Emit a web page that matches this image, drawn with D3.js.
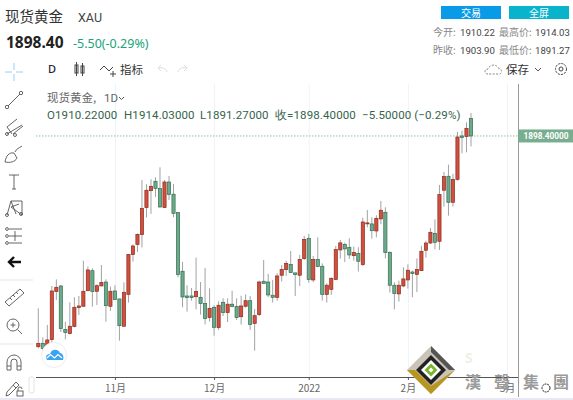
<!DOCTYPE html>
<html><head><meta charset="utf-8">
<script src="https://cdnjs.cloudflare.com/ajax/libs/d3/7.8.5/d3.min.js"></script>
<style>html,body{margin:0;padding:0;background:#fff;overflow:hidden}svg{display:block}text{font-family:"Noto Sans CJK SC","Noto Sans",sans-serif}</style>
</head><body><svg id="c" width="573" height="400"></svg>
<script>
const opens=[1755.1,1757.4,1755.8,1759.9,1792.6,1796.4,1766.9,1764.0,1768.8,1781.7,1782.6,1793.2,1806.8,1792.8,1796.4,1799.1,1782.6,1793,1787.6,1769,1790.7,1817.7,1824.7,1831.3,1849.7,1861.2,1867.6,1862.6,1849.7,1867.1,1858.8,1846.3,1806.4,1789.6,1789.6,1789.1,1788.7,1784.4,1774.9,1781.9,1768.1,1785.3,1778.3,1784,1782.4,1775.5,1782.6,1786.4,1771,1776.9,1799.6,1799.1,1790.1,1788.7,1803.7,1807.5,1811.1,1805.3,1803.7,1815,1828.8,1800.5,1814.5,1809.8,1790.7,1794.1,1800.9,1820.9,1824.7,1822.7,1817,1818.6,1810.9,1838.8,1838.6,1833.8,1842,1846.5,1819.3,1796.9,1791,1796.4,1800.5,1805.9,1804.3,1806.8,1820.7,1825.6,1832.2,1826.8,1861.5,1871,1853.3,1868.9,1898.4,1898,1910.2];
const highs=[1781.2,1761.5,1769.9,1796.4,1800.9,1797.1,1772.1,1785.3,1788.7,1789.6,1813.6,1809.6,1808.4,1797.5,1810.7,1800.9,1796,1796.9,1787.6,1798.9,1817.9,1824.7,1832.2,1868.5,1865.6,1869,1870.3,1877.1,1868.5,1871.2,1865.8,1846.3,1812.7,1796.9,1795,1815.7,1799.1,1808.6,1794.8,1783.3,1786,1788,1788,1793.2,1788,1789.8,1790.7,1789.6,1780.8,1800,1814.1,1804.6,1800.5,1805,1810.7,1813.6,1820.2,1805.3,1817.5,1830.4,1831.8,1816.8,1829.5,1811.8,1798.2,1802.3,1823.6,1827.7,1825.9,1828.8,1823.2,1822.7,1842.9,1848.1,1843.1,1844.5,1854.2,1849.9,1819.8,1798.9,1800,1809.1,1811.1,1806.8,1815.2,1823.6,1827.2,1835.8,1841.7,1865.1,1873.9,1878.9,1872.6,1901.1,1902,1907.7,1914];
const lows=[1754,1752,1755.1,1757.9,1786.9,1765.1,1760.1,1763.5,1768.3,1776.7,1782.4,1792.8,1782.4,1783.5,1796.4,1772.1,1779.4,1786.9,1759.2,1769,1785.1,1813,1819.5,1822.5,1842.9,1845.4,1856.9,1849.7,1849.7,1854.9,1843.1,1802.3,1781.9,1779,1786.4,1780.5,1776.9,1770.3,1772.2,1762.6,1766.5,1776,1771.9,1781.9,1773.3,1770.1,1781.7,1766.5,1752.4,1776,1797.8,1788.7,1785.1,1786.4,1799.4,1803.2,1805.5,1789.6,1796.4,1814.1,1798.7,1798.9,1809.1,1786.4,1785.1,1790.3,1800.5,1815,1812.7,1814.8,1813.6,1806.2,1810,1836.3,1828.6,1829.5,1838.4,1815.2,1791.9,1780.5,1785.8,1795.5,1794.6,1788.7,1792.3,1806.8,1815.7,1825,1821.3,1820.9,1850.4,1844.2,1850.4,1868,1886.6,1887.3,1891.3];
const closes=[1757.4,1753.8,1759.7,1793,1795.5,1767.4,1764.7,1769,1781.9,1782.8,1792.8,1807.3,1792.6,1796.6,1798.7,1783,1792.8,1787.1,1769.4,1792.1,1817.9,1823.6,1831.5,1849.2,1861.5,1864.2,1862.8,1850.1,1867.1,1858.5,1845.8,1804.1,1788.9,1788.5,1788.5,1792.6,1784.4,1774.2,1781.2,1768.3,1783.3,1778.3,1784,1782.4,1774.9,1782.8,1786.4,1770.3,1776.2,1799.1,1798,1790.3,1788.7,1803.2,1807.7,1811.8,1805.5,1804.1,1814.5,1828.1,1800.9,1814.5,1809.6,1790.7,1796.9,1801.6,1821.1,1825.7,1821.6,1817.5,1819.1,1813.2,1839.9,1839.3,1834,1842.4,1847.9,1819.1,1796.9,1791.2,1796.9,1801.2,1807.1,1804.8,1807.7,1820,1825.6,1832.9,1826.1,1858.5,1870.8,1853.3,1868.9,1897.7,1897.3,1903.6,1898.4];
const tickIndex=[17,39,60,82,104];
const tickLabels=["11月","12月","2022","2月","3月"];
const lastPrice=1898.4;
const sidebarIcons=["cross","line","fork","brush","T","nodes","fib","arrow","ruler","zoom","magnet","pencil"];

const svg=d3.select("#c");
const plot={l:36,r:518,t:84,b:377};
const x=d3.scaleLinear().domain([0,96]).range([38.3,471]);
const y=d3.scaleLinear().domain([1734.5,1928.3]).range([377,92]);
const T=(s,px,py,o={})=>svg.append("text").attr("x",px).attr("y",py).text(s)
  .attr("font-size",o.size||12).attr("fill",o.fill||"#333").attr("text-anchor",o.anchor||"start")
  .attr("font-weight",o.weight||400).style("font-family",o.font||null).style("letter-spacing",o.ls||null);

/* gridlines */
svg.append("g").selectAll("line").data(tickIndex).join("line")
  .attr("x1",d=>x(d)+.5).attr("x2",d=>x(d)+.5).attr("y1",plot.t).attr("y2",plot.b).attr("stroke","#eef4f8");

/* last price dotted */
svg.append("line").attr("x1",plot.l).attr("x2",plot.r).attr("y1",y(lastPrice)).attr("y2",y(lastPrice))
  .attr("stroke","#8fc2a9").attr("stroke-dasharray","1.5 1.5");

/* candles */
const idx=d3.range(opens.length);
const bw=3.2;
const g=svg.append("g");
g.selectAll("line").data(idx).join("line")
  .attr("x1",d=>x(d)).attr("x2",d=>x(d)).attr("y1",d=>y(highs[d])).attr("y2",d=>y(lows[d]))
  .attr("stroke","#a2a2a2").attr("stroke-width",1);
g.selectAll("rect").data(idx).join("rect")
  .attr("x",d=>x(d)-bw/2).attr("width",bw)
  .attr("y",d=>y(Math.max(opens[d],closes[d])))
  .attr("height",d=>Math.max(1,Math.abs(y(opens[d])-y(closes[d]))))
  .attr("fill",d=>closes[d]>=opens[d]?"#d0503e":"#6fa98c")
  .attr("stroke",d=>closes[d]>=opens[d]?"#8f2a20":"#2f6f52").attr("stroke-width",.7);

/* axes */
const ax=d3.axisBottom(x).tickValues(tickIndex).tickFormat((d,i)=>tickLabels[i]).tickSize(3).tickPadding(5);
const gx=svg.append("g").attr("transform",`translate(0,${plot.b})`).call(ax);
gx.select(".domain").attr("stroke","#555").attr("d",`M${plot.l},0.5H${plot.r}`);
gx.selectAll("line").attr("stroke","#555");
gx.selectAll("text").attr("font-size",10).attr("fill","#666").style("font-family",'"Noto Sans CJK SC"');
const ay=d3.axisRight(y).tickValues([]).tickSize(0);
const gy=svg.append("g").attr("transform",`translate(${plot.r},0)`).call(ay);
gy.select(".domain").attr("stroke","#9a9a9a").attr("d",`M0.5,${plot.t}V397`);

/* price label */
svg.append("rect").attr("x",518).attr("y",y(lastPrice)-6.5).attr("width",55).attr("height",13).attr("fill","#78ad8f");
T("1898.40000",546,y(lastPrice)+3,{size:8.3,fill:"#fff",anchor:"middle",weight:700,font:"Roboto"});

/* header */
T("现货黄金",5,22,{size:14.5,fill:"#333"});
T("XAU",78,22,{size:12.5,fill:"#444",font:"Roboto"});
T("1898.40",6,48,{size:15.5,fill:"#222",weight:700,font:"Noto Sans"});
T("-5.50(-0.29%)",73,48,{size:12.5,fill:"#1ba37c",font:"Noto Sans"});

svg.append("rect").attr("x",441).attr("y",6).attr("width",60).attr("height",13).attr("fill","#0a9be8");
svg.append("rect").attr("x",509).attr("y",6).attr("width",60).attr("height",13).attr("fill","#09b3cc");
T("交易",471,16.5,{size:10,fill:"#fff",anchor:"middle"});
T("全屏",539,16.5,{size:10,fill:"#fff",anchor:"middle"});

[["今开:","1910.22","最高价:","1914.03",36],["昨收:","1903.90","最低价:","1891.27",54]].forEach(r=>{
  T(r[0],433,r[4],{size:10,fill:"#888"});
  T(r[1],460,r[4],{size:9.6,fill:"#444",font:"Roboto"});
  T(r[2],499,r[4],{size:10,fill:"#888"});
  T(r[3],535,r[4],{size:9.6,fill:"#444",font:"Roboto"});
});

/* toolbar */
T("D",48,73,{size:11,fill:"#223",weight:500,font:"Noto Sans"});
const tb=svg.append("g").attr("fill","none").attr("stroke","#444").attr("stroke-width",1);
tb.append("rect").attr("x",75).attr("y",65).attr("width",3).attr("height",8);
tb.append("line").attr("x1",76.5).attr("x2",76.5).attr("y1",62).attr("y2",76);
tb.append("rect").attr("x",81).attr("y",66).attr("width",3).attr("height",7);
tb.append("line").attr("x1",82.5).attr("x2",82.5).attr("y1",63).attr("y2",76);
tb.append("path").attr("d","M100,70l4,-4l5,5l4,-4M113,71v6M110,74h6");
T("指标",120,74,{size:11.5,fill:"#333"});
const ua=svg.append("g").attr("fill","none").attr("stroke","#ddd").attr("stroke-width",1);
ua.append("path").attr("d","M167,72c-1,-4 -5,-5 -9,-4m3,-3l-3,3l3,3");
ua.append("path").attr("d","M178,72c1,-4 5,-5 9,-4m-3,-3l3,3l-3,3");
svg.append("path").attr("d","M488,74c-4,0 -4,-5 0,-5c1,-4 8,-6 10,-1c4,0 5,6 1,6z").attr("fill","none").attr("stroke","#888").attr("stroke-dasharray","2 1.5");
T("保存",506,74,{size:11.5,fill:"#333"});
svg.append("path").attr("d","M535,68l3,3l3,-3").attr("fill","none").attr("stroke","#555");
svg.append("circle").attr("cx",561).attr("cy",69).attr("r",2).attr("fill","none").attr("stroke","#444");
svg.append("circle").attr("cx",561).attr("cy",69).attr("r",5.5).attr("fill","none").attr("stroke","#444").attr("stroke-dasharray","2.2 1");

/* legend */
T("现货黄金,",47,102,{size:11.5,fill:"#666"});
T("1D",104,102,{size:11.5,fill:"#666",font:"Roboto"});
svg.append("path").attr("d","M119,97l2.5,2.5l2.5,-2.5").attr("fill","none").attr("stroke","#555");
const lc="#35634c",lf={size:11.5,fill:lc,font:"Roboto",ls:"0.01em"};
T("O1910.22000",47,119,lf);T("H1914.03000",124,119,lf);T("L1891.27000",200,119,lf);
T("收=1898.40000",275,119,lf);T("−5.50000 (−0.29%)",362,119,lf);

/* sidebar */
const sb=svg.append("g").attr("fill","none").attr("stroke","#555").attr("stroke-width",.9);
const sy={cross:72,line:100,fork:128,brush:155,T:182,nodes:208,fib:236,arrow:262,ruler:297,zoom:325,magnet:362,pencil:388};
sidebarIcons.forEach(n=>{
  const i=sb.append("g").attr("transform",`translate(14,${sy[n]})`);
  if(n==="cross"){i.append("path").attr("d","M-9,0h7M2,0h7M0,-9v7M0,2v7").attr("stroke","#8cc8f5");}
  if(n==="line"){i.append("path").attr("d","M-6,6L6,-6");i.append("circle").attr("cx",-7).attr("cy",7).attr("r",1.7);i.append("circle").attr("cx",7).attr("cy",-7).attr("r",1.7);}
  if(n==="fork"){i.append("path").attr("d","M-7,-1L3,-9M-7,6L8,-3M-1,6L9,-2M-7,-1L-2,6");i.append("circle").attr("cx",-7).attr("cy",6).attr("r",1.5);i.append("circle").attr("cx",1).attr("cy",7).attr("r",1.5);}
  if(n==="brush"){i.append("path").attr("d","M-9,7c1,-6 4,-10 9,-9l3,5c-2,4 -7,5 -12,4zM1,-3c1,-3 4,-4 7,-6");}
  if(n==="T"){i.append("path").attr("d","M-5,-7h10M0,-7v14M-2,7h4");}
  if(n==="nodes"){i.append("path").attr("d","M-7,7L-3,-7L8,-7L8,7L-3,-1L5,-4M-3,-7L2,6");i.append("circle").attr("cx",-7).attr("cy",7).attr("r",1.5);i.append("circle").attr("cx",7).attr("cy",6).attr("r",1.5);}
  if(n==="fib"){i.append("path").attr("d","M-5,-7h13M-5,0h13M-5,7h13M1,-5v10");[-7,0,7].forEach(v=>i.append("circle").attr("cx",-7).attr("cy",v).attr("r",1.4));}
  if(n==="arrow"){i.append("path").attr("d","M7,0H-4M0,-5l-5,5l5,5").attr("stroke","#111").attr("stroke-width",2.4);}
  if(n==="ruler"){i.append("path").attr("d","M-9,5L6,-8L10,-4L-5,9zM-4,1l2,2M-1,-2l2,2M2,-5l2,2");}
  if(n==="zoom"){i.append("circle").attr("cx",-1).attr("r",6);i.append("path").attr("d","M3.5,4.5L8,9M-3.5,0h5M-1,-2.5v5");}
  if(n==="magnet"){i.append("path").attr("d","M-7,8V0a7,7 0 0 1 14,0V8H3V0a3,3 0 0 0 -6,0V8zM-7,4h4M3,4h4");}
  if(n==="pencil"){i.append("path").attr("d","M-8,8l1,-4L2,-6l3,3L-5,7zM-1,-3l3,3");i.append("rect").attr("x",3).attr("y",3).attr("width",6).attr("height",5);i.append("path").attr("d","M4,3v-2a2,2 0 0 1 4,0");}
});
[280,344].forEach(v=>svg.append("line").attr("x1",0).attr("x2",33).attr("y1",v).attr("y2",v).attr("stroke","#e6e6e6"));
svg.append("rect").attr("x",29).attr("y",377).attr("width",5).attr("height",16).attr("rx",2).attr("fill","#fff").attr("stroke","#e3e3e3");

/* cloud badge */
svg.append("circle").attr("cx",54).attr("cy",355).attr("r",12.5).attr("fill","#fff").attr("stroke","#eeeeee");
svg.append("path").attr("d","M47,360c-2,-4 0,-6 3,-6c1,-5 8,-6 10,-1c3,0 4,4 3,7z").attr("fill","#3aa3f2");
svg.append("path").attr("d","M47,358l3.5,-3.5l4,3.5l3.5,-3.5l4,3.5").attr("fill","none").attr("stroke","#fff").attr("stroke-width",1.2);

/* watermark */
const wm=svg.append("g").attr("transform","translate(431,370)");
wm.append("path").attr("d","M0,-24L24,0L0,24L-24,0z").attr("fill","#c9c3b8");
wm.append("path").attr("d","M-24,0L0,24L24,0L0,16L-16,0z").attr("fill","#b8961e");
wm.append("path").attr("d","M0,-24L24,0L18,0L0,-18z").attr("fill","#555");
wm.append("path").attr("d","M0,-15L15,0L0,15L-15,0z").attr("fill","#222");
wm.append("path").attr("d","M0,-10L10,0L0,10L-10,0z").attr("fill","#fff");
wm.append("path").attr("d","M0,-6.5L6.5,0L0,6.5L-6.5,0zM0,-2.5L-2.5,0L0,2.5L2.5,0z").attr("fill","#7ab52c").attr("fill-rule","evenodd");
T("S",465,363,{size:14,fill:"#eef1e4",weight:700,font:"Noto Sans"});
[["漢",473],["聲",502],["集",531],["團",561]].forEach(d=>T(d[0],d[1],388,{size:16,fill:"#9a9a9a",anchor:"middle",weight:700}));
svg.append("circle").attr("cx",546).attr("cy",388).attr("r",4).attr("fill","#fff").attr("stroke","#222").attr("stroke-dasharray","2 .8");
svg.append("rect").attr("x",0).attr("y",398).attr("width",573).attr("height",2).attr("fill","#e9e6f5");
</script></body></html>
